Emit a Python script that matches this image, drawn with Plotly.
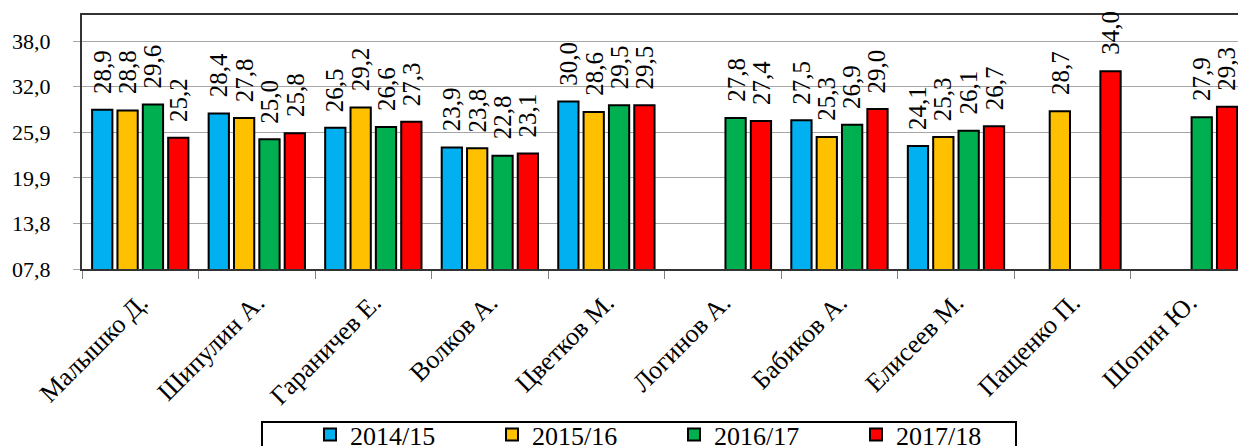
import plotly.graph_objects as go

# athletes and seasons
athletes = ["Малышко Д.", "Шипулин А.", "Гараничев Е.", "Волков А.", "Цветков М.",
            "Логинов А.", "Бабиков А.", "Елисеев М.", "Пащенко П.", "Шопин Ю."]
seasons = ["2014/15", "2015/16", "2016/17", "2017/18"]

# values per season (None = no data)
s2014_15 = [28.9, 28.4, 26.5, 23.9, 30.0, None, 27.5, 24.1, None, None]
s2015_16 = [28.8, 27.8, 29.2, 23.8, 28.6, None, 25.3, 25.3, 28.7, None]
s2016_17 = [29.6, 25.0, 26.6, 22.8, 29.5, 27.8, 26.9, 26.1, None, 27.9]
s2017_18 = [25.2, 25.8, 27.3, 23.1, 29.5, 27.4, 29.0, 26.7, 34.0, 29.3]

tick_vals = [7.8, 13.84, 19.88, 25.92, 31.96, 38.0]
tick_text = ["07,8", "13,8", "19,9", "25,9", "32,0", "38,0"]

colors = ["#00B0F0", "#FFC000", "#00B050", "#FF0000"]
series = [s2014_15, s2015_16, s2016_17, s2017_18]

W, H = 1238, 446
ml, mr, mt, mb = 82, 0, 15, 177
x_range = [-0.5, 9.42]
bargap = 0.13
font = "Times New Roman, Liberation Serif, DejaVu Serif"

fig = go.Figure()
for name, vals, col in zip(seasons, series, colors):
    fig.add_trace(go.Bar(x=athletes, y=vals, name=name,
                         marker=dict(color=col, line=dict(color="black", width=2))))

# data labels, rotated, above each bar
cat_px = (W - ml - mr) / (x_range[1] - x_range[0])
slot_px = (1 - bargap) * cat_px / 4
for i, vals in enumerate(series):
    for a, v in zip(athletes, vals):
        if v is None:
            continue
        fig.add_annotation(x=a, y=v, text=f"{v:.1f}".replace(".", ","),
                           textangle=-90, showarrow=False,
                           xanchor="center", yanchor="bottom",
                           xshift=(i - 1.5) * slot_px, yshift=14,
                           font=dict(family=font, size=25, color="black"))

# legend frame
pw, ph = W - ml - mr, H - mt - mb
fig.add_shape(type="rect", xref="paper", yref="paper",
              x0=(262 - ml) / pw, x1=(1016 - ml) / pw,
              y0=(H - mb - 422) / ph, y1=(H - mb - 470) / ph,
              line=dict(color="black", width=2), fillcolor="white", layer="below")

fig.update_layout(
    width=W, height=H,
    margin=dict(l=ml, r=mr, t=mt, b=mb, autoexpand=False),
    barmode="group", bargap=bargap, bargroupgap=0.2,
    plot_bgcolor="white", paper_bgcolor="white",
    font=dict(family=font, color="black"),
    showlegend=True,
    legend=dict(orientation="h", x=(310 - ml) / pw, y=(H - mb - 411) / ph,
                xanchor="left", yanchor="top", entrywidth=137,
                bgcolor="rgba(0,0,0,0)", font=dict(size=26, family=font)),
)
fig.update_xaxes(range=x_range, tickangle=-45, tickson="boundaries",
                 ticks="outside", ticklen=8, tickcolor="#808080",
                 showline=True, linecolor="#333333", linewidth=2, mirror=True,
                 tickfont=dict(size=26, family=font), showgrid=False,
                 ticklabelstandoff=6, automargin=False)
fig.update_yaxes(range=[7.8, 41.45], tickvals=tick_vals, ticktext=tick_text,
                 ticks="outside", ticklen=7, tickcolor="#A6A6A6",
                 showgrid=True, gridcolor="#A6A6A6", gridwidth=1,
                 showline=True, linecolor="#333333", linewidth=2,
                 zeroline=False, ticklabelstandoff=18, automargin=False,
                 tickfont=dict(size=22, family=font))

# page body has a default margin; drop it so the figure fills the window
fig.write_html("out.html", config={"displayModeBar": False},
               post_script="document.body.style.margin='0';")
